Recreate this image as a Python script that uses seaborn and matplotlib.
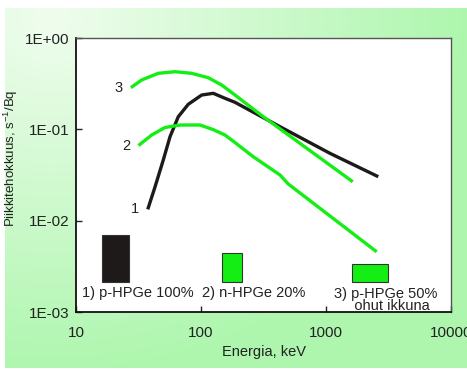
import numpy as np
import pandas as pd
import matplotlib
matplotlib.use("Agg")
import matplotlib.pyplot as plt
from matplotlib.patches import Rectangle
from matplotlib.ticker import FixedLocator, FixedFormatter, NullLocator
import seaborn as sns

# Данные кривых (энергия, кэВ / эффективность пика, 1/с/Бк)
e1 = [37.5, 42.9, 49.9, 56.5, 65.8, 79.1, 101.3, 125.4, 155.6, 187, 429, 1076, 2619]
v1 = [0.0133, 0.0235, 0.0461, 0.083, 0.1375, 0.188, 0.2375, 0.248, 0.2186, 0.1977, 0.1068, 0.0546, 0.0303]

e2 = [31.6, 40.3, 51.5, 67.9, 98.2, 124.7, 155.6, 187, 262, 429, 499, 2545]
v2 = [0.0665, 0.0866, 0.1047, 0.1115, 0.1115, 0.0995, 0.0866, 0.0717, 0.0501, 0.0316, 0.0252, 0.00456]

e3 = [27.5, 33.5, 45.5, 61.9, 84.2, 114.4, 146.4, 187, 315, 1636]
v3 = [0.286, 0.347, 0.4105, 0.4276, 0.4105, 0.3674, 0.3056, 0.2375, 0.1375, 0.0267]

curve_ids = ["1", "2", "3"]
legend_texts = ["1) p-HPGe 100%", "2) n-HPGe 20%", "3) p-HPGe 50%\n   ohut ikkuna"]

x_ticks = [10, 100, 1000, 10000]
x_labels = ["10", "100", "1000", "10000"]
y_ticks = [1e-3, 1e-2, 1e-1, 1e0]
y_labels = ["1E-03", "1E-02", "1E-01", "1E+00"]

df = pd.concat([
    pd.DataFrame({"E": e1, "eff": v1, "det": "1"}),
    pd.DataFrame({"E": e2, "eff": v2, "det": "2"}),
    pd.DataFrame({"E": e3, "eff": v3, "det": "3"}),
], ignore_index=True)

black = "#1e1a1a"
green = "#14ee14"
colors = {"1": black, "2": green, "3": green}
txt = "#222222"

plt.rcParams["font.family"] = ["Liberation Sans", "DejaVu Sans"]
plt.rcParams["mathtext.fontset"] = "custom"
plt.rcParams["mathtext.rm"] = "Liberation Sans"

fig = plt.figure(figsize=(4.67, 3.70), dpi=100, facecolor="white")

# фон - светло-зеленый градиент
bg = fig.add_axes([5 / 467, 2 / 370, 462 / 467, 360 / 370], zorder=-10)
yy, xx = np.mgrid[0:1:200j, 0:1:250j]
d = np.clip(np.sqrt(((xx - 0.1) / 1.0) ** 2 + ((yy - 0.03) / 1.1) ** 2) / 0.9, 0, 1)
c0 = np.array([240, 253, 238]) / 255
c1 = np.array([174, 246, 174]) / 255
img = c0[None, None, :] * (1 - d[..., None]) + c1[None, None, :] * d[..., None]
bg.imshow(img, aspect="auto", extent=[0, 1, 1, 0])
bg.set_axis_off()

ax = fig.add_axes([76 / 467, 58 / 370, 375 / 467, 274 / 370])
ax.set_facecolor("white")

sns.lineplot(data=df, x="E", y="eff", hue="det", palette=colors, sort=False,
             estimator=None, linewidth=2.4, legend=False, ax=ax)
for ln in ax.get_lines():
    ln.set_solid_capstyle("butt")
    ln.set_solid_joinstyle("round")

ax.set_xscale("log")
ax.set_yscale("log")
ax.set_xlim(10, 10000)
ax.set_ylim(1e-3, 1)

# номера кривых
for cid, ee, vv in zip(curve_ids, [e1, e2, e3], [v1, v2, v3]):
    ax.annotate(cid, (ee[0], vv[0]), xytext=(-6, 0), textcoords="offset points",
                ha="right", va="center", fontsize=10.5, color=txt)

# условные обозначения - прямоугольники
swatches = [(0.069, 0.073, 0.170, black), (0.389, 0.053, 0.104, green), (0.737, 0.096, 0.065, green)]
for x0, w, h, c in swatches:
    ax.add_patch(Rectangle((x0, 0.1106), w, h, transform=ax.transAxes,
                           facecolor=c, edgecolor="#333333", linewidth=0.8, zorder=3))
ax.text(0.165, 0.068, legend_texts[0], transform=ax.transAxes, ha="center", va="center",
        fontsize=10.5, color=txt)
ax.text(0.473, 0.068, legend_texts[1], transform=ax.transAxes, ha="center", va="center",
        fontsize=10.5, color=txt)
ax.text(0.826, 0.090, legend_texts[2], transform=ax.transAxes, ha="center", va="top",
        fontsize=10.5, color=txt, linespacing=0.78, multialignment="center")

ax.xaxis.set_major_locator(FixedLocator(x_ticks))
ax.xaxis.set_major_formatter(FixedFormatter(x_labels))
ax.yaxis.set_major_locator(FixedLocator(y_ticks))
ax.yaxis.set_major_formatter(FixedFormatter(y_labels))
ax.xaxis.set_minor_locator(NullLocator())
ax.yaxis.set_minor_locator(NullLocator())
ax.tick_params(axis="both", direction="in", length=4, width=1, colors="#222222",
               labelcolor=txt, labelsize=11)
ax.tick_params(axis="x", pad=10)
ax.tick_params(axis="y", pad=5)

for s in ["left", "bottom"]:
    ax.spines[s].set_color("#111111")
    ax.spines[s].set_linewidth(1.3)
for s in ["top", "right"]:
    ax.spines[s].set_color("#555555")
    ax.spines[s].set_linewidth(1.0)

ax.set_xlabel("Energia, keV", fontsize=10.5, color=txt, labelpad=4)
ax.set_ylabel("Piikkitehokkuus, s$^{-1}$/Bq", fontsize=9.5, color=txt, labelpad=6)
ax.yaxis.set_label_coords(-0.15, 0.562)

fig.savefig("out.png", dpi=100, facecolor="white")
